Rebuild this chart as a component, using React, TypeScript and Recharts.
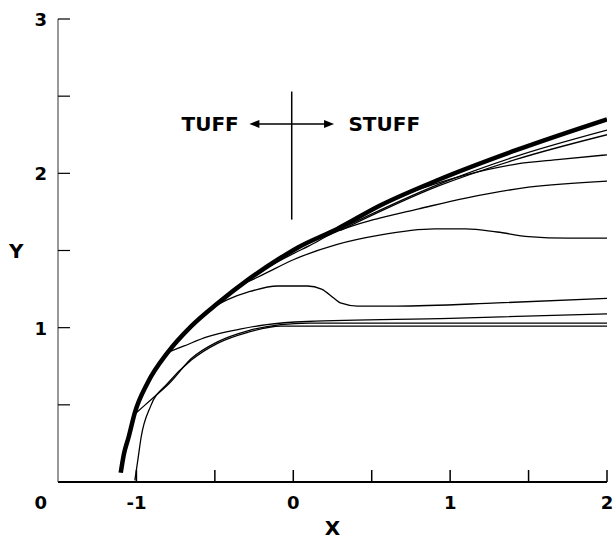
import { LineChart, Line, XAxis, YAxis, ReferenceLine, ReferenceDot } from 'recharts'

const FONT = '"DejaVu Sans", "Liberation Sans", Arial, sans-serif'

const xTicks = [-1, -0.5, 0, 0.5, 1, 1.5, 2]
const yTicks = [0, 0.5, 1, 1.5, 2, 2.5, 3]

// thick bundle (outer curves lying on top of each other)
const bundleX = [-1.1, -1.08, -1.05, -1.01, -0.93, -0.8, -0.65, -0.48, -0.29, -0.1, 0.03, 0.28, 0.55, 0.93, 1.42, 2.0]
const bundleY = [0.06, 0.18, 0.29, 0.45, 0.64, 0.84, 1.01, 1.16, 1.31, 1.44, 1.52, 1.64, 1.79, 1.96, 2.15, 2.35]

// thin curves just under the bundle
const nearAX = [0.3, 0.93, 1.42, 2.0]
const nearAY = [1.64, 1.93, 2.11, 2.28]
const nearBX = [0.3, 0.93, 1.42, 2.0]
const nearBY = [1.63, 1.92, 2.09, 2.25]

const c212X = [0.7, 0.9, 1.1, 1.42, 1.7, 2.0]
const c212Y = [1.86, 1.93, 1.99, 2.06, 2.09, 2.12]

const c195X = [-0.15, 0.0, 0.1, 0.25, 0.55, 0.8, 1.1, 1.5, 2.0]
const c195Y = [1.4, 1.48, 1.53, 1.61, 1.71, 1.77, 1.84, 1.91, 1.95]

const c158X = [-0.35, -0.2, 0.0, 0.28, 0.55, 0.9, 1.1, 1.3, 1.5, 1.75, 2.0]
const c158Y = [1.27, 1.34, 1.44, 1.54, 1.6, 1.64, 1.64, 1.62, 1.59, 1.58, 1.58]

const c119X = [-0.5, -0.4, -0.29, -0.1, 0.09, 0.18, 0.26, 0.3, 0.41, 0.66, 1.3, 2.0]
const c119Y = [1.14, 1.19, 1.23, 1.27, 1.27, 1.25, 1.19, 1.16, 1.14, 1.14, 1.16, 1.19]

const c109X = [-0.8, -0.7, -0.55, -0.34, -0.17, 0.09, 1.0, 2.0]
const c109Y = [0.84, 0.88, 0.94, 0.99, 1.02, 1.04, 1.06, 1.09]

const c103X = [-1.01, -0.9, -0.79, -0.65, -0.48, -0.29, -0.08, 0.1, 1.0, 2.0]
const c103Y = [0.44, 0.54, 0.64, 0.8, 0.91, 0.98, 1.02, 1.03, 1.03, 1.03]

const bodyX = [-1.01, -0.99, -0.97, -0.91, -0.8, -0.65, -0.48, -0.29, -0.08, 0.09, 1.0, 2.0]
const bodyY = [0.01, 0.15, 0.29, 0.49, 0.64, 0.79, 0.9, 0.97, 1.01, 1.01, 1.01, 1.01]

const toPoints = (xs: number[], ys: number[]) => xs.map((x, i) => ({ x, y: ys[i] }))

const thinCurves = [
  toPoints(nearAX, nearAY),
  toPoints(nearBX, nearBY),
  toPoints(c212X, c212Y),
  toPoints(c195X, c195Y),
  toPoints(c158X, c158Y),
  toPoints(c119X, c119Y),
  toPoints(c109X, c109Y),
  toPoints(c103X, c103Y),
  toPoints(bodyX, bodyY),
]

const XTick = (props: any) => {
  const { x, y, payload } = props
  const v = payload.value
  return (
    <g>
      <line x1={x} y1={y} x2={x} y2={y - 12} stroke="#000" strokeWidth={1.5} />
      {Number.isInteger(v) && (
        <text x={x} y={y + 27} textAnchor="middle" fontFamily={FONT} fontWeight="bold" fontSize={18} fill="#000">
          {v}
        </text>
      )}
    </g>
  )
}

const YTick = (props: any) => {
  const { x, y, payload } = props
  const v = payload.value
  return (
    <g>
      {v > 0 && <line x1={x} y1={y} x2={x + 12} y2={y} stroke="#000" strokeWidth={1.2} />}
      {Number.isInteger(v) && (
        <text x={x - 11} y={v === 0 ? y + 27 : y + 7} textAnchor="end" fontFamily={FONT} fontWeight="bold" fontSize={18} fill="#000">
          {v}
        </text>
      )}
    </g>
  )
}

const arrowLeft = ({ cx, cy }: any) => (
  <polygon points={`${cx},${cy} ${cx + 10},${cy - 4} ${cx + 10},${cy + 4}`} fill="#000" />
)
const arrowRight = ({ cx, cy }: any) => (
  <polygon points={`${cx},${cy} ${cx - 10},${cy - 4} ${cx - 10},${cy + 4}`} fill="#000" />
)
const word = (text: string) => ({ cx, cy }: any) => (
  <text x={cx} y={cy + 7.5} textAnchor="middle" fontFamily={FONT} fontWeight="bold" fontSize={20} fill="#000">
    {text}
  </text>
)

export default function App() {
  return (
    <>
      {/* drop the default body margin so the "2" and "X" labels near the edges are not clipped */}
      <style>{'body{margin:0}'}</style>
      <LineChart width={615} height={539} margin={{ top: 19, right: 8, left: 8, bottom: 0 }}>
        <XAxis
          dataKey="x"
          type="number"
          domain={[-1.5, 2]}
          ticks={xTicks}
          interval={0}
          allowDataOverflow
          height={57}
          tickSize={0}
          tickMargin={0}
          tickLine={false}
          tick={<XTick />}
          axisLine={{ stroke: '#000', strokeWidth: 2 }}
          label={{ value: 'X', position: 'insideBottom', offset: 4, fontFamily: FONT, fontWeight: 'bold', fontSize: 20, fill: '#000' }}
        />
        <YAxis
          dataKey="y"
          type="number"
          domain={[0, 3]}
          ticks={yTicks}
          interval={0}
          allowDataOverflow
          width={50}
          tickSize={0}
          tickMargin={0}
          tickLine={false}
          tick={<YTick />}
          axisLine={{ stroke: '#333', strokeWidth: 1 }}
          label={{ value: 'Y', position: 'insideLeft', offset: 1, fontFamily: FONT, fontWeight: 'bold', fontSize: 20, fill: '#000' }}
        />
        <Line
          data={toPoints(bundleX, bundleY)}
          dataKey="y"
          type="monotone"
          stroke="#000"
          strokeWidth={4.5}
          dot={false}
          isAnimationActive={false}
        />
        {thinCurves.map((pts, i) => (
          <Line
            key={i}
            data={pts}
            dataKey="y"
            type="monotone"
            stroke="#000"
            strokeWidth={1.3}
            dot={false}
            isAnimationActive={false}
          />
        ))}
        <ReferenceLine segment={[{ x: -0.01, y: 1.7 }, { x: -0.01, y: 2.53 }]} stroke="#000" strokeWidth={1.5} />
        <ReferenceLine segment={[{ x: -0.25, y: 2.32 }, { x: 0.22, y: 2.32 }]} stroke="#000" strokeWidth={1.5} />
        <ReferenceDot x={-0.28} y={2.32} shape={arrowLeft} />
        <ReferenceDot x={0.26} y={2.32} shape={arrowRight} />
        <ReferenceDot x={-0.53} y={2.32} shape={word('TUFF')} />
        <ReferenceDot x={0.58} y={2.32} shape={word('STUFF')} />
      </LineChart>
    </>
  )
}
